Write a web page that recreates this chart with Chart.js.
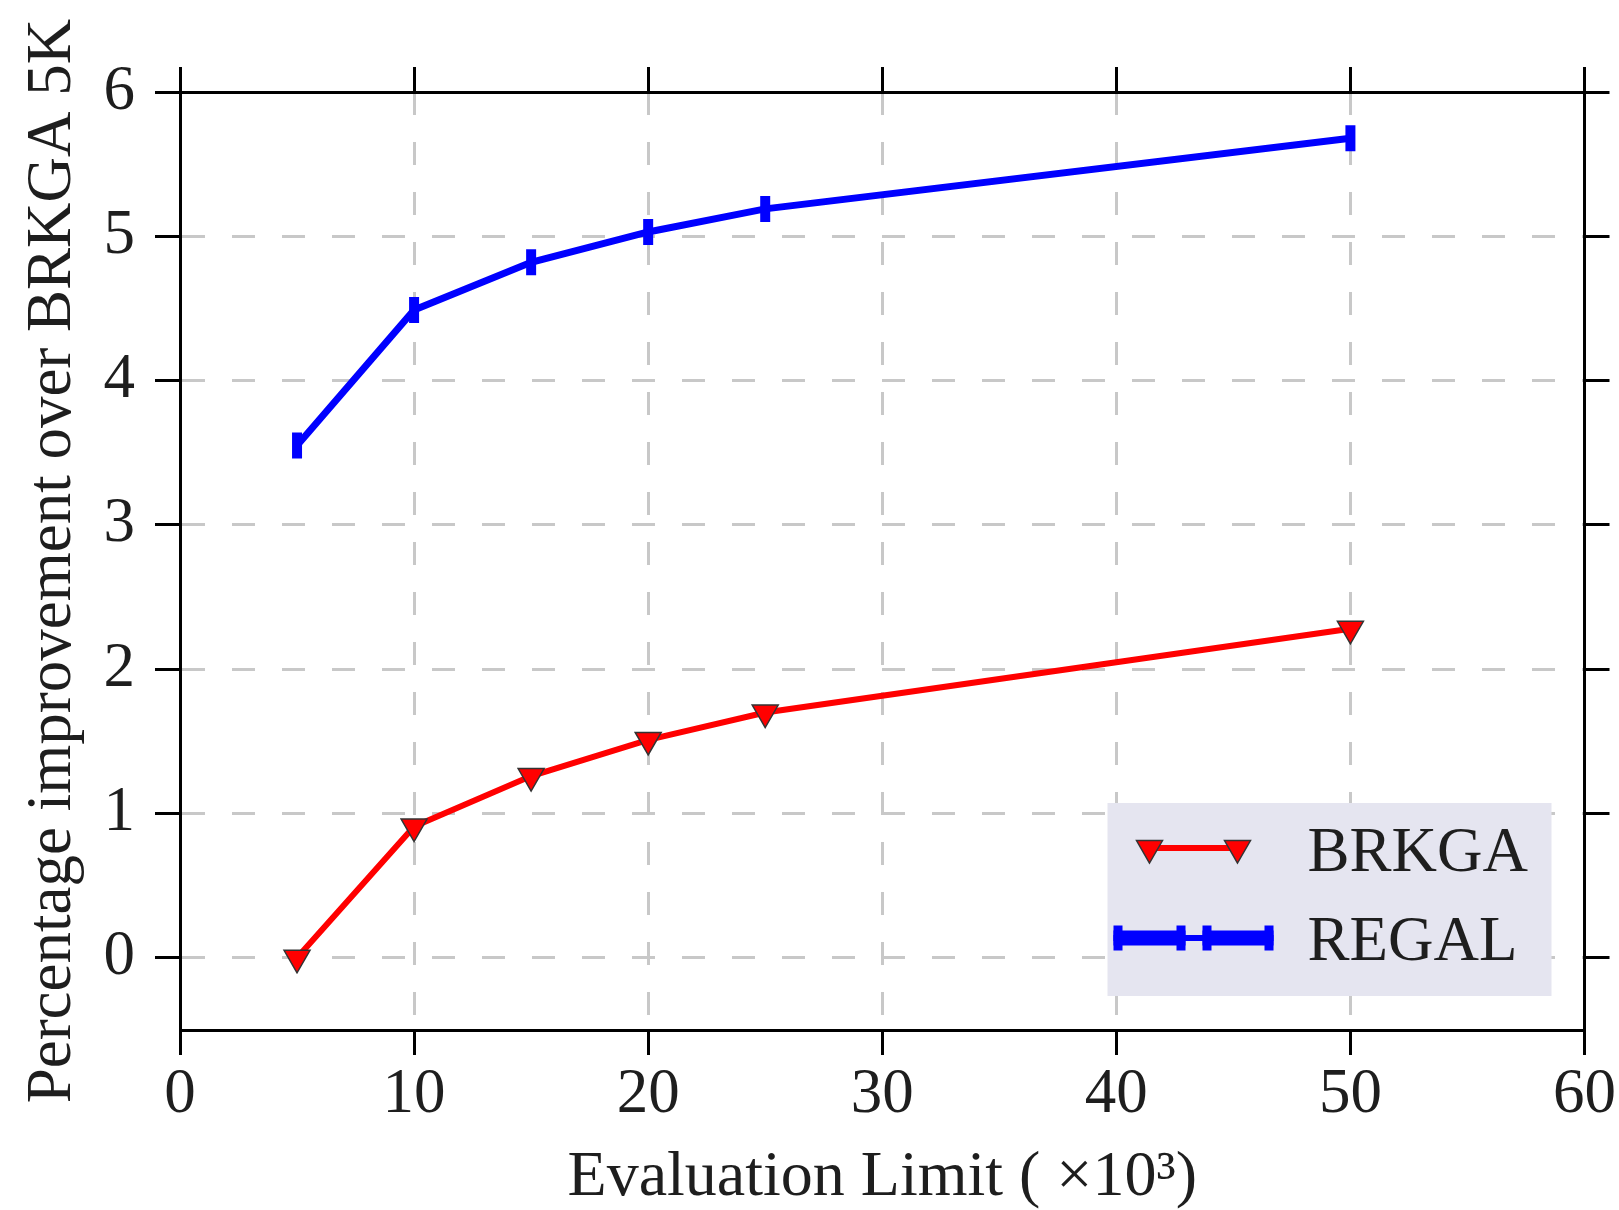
<!DOCTYPE html>
<html>
<head>
<meta charset="utf-8">
<script src="https://cdn.jsdelivr.net/npm/chart.js@4/dist/chart.umd.min.js"></script>
<style>
    body { margin: 0; background: #fff; }
    canvas { display: block; }
</style>
</head>
<body>
<canvas id="improvementChart" width="1619" height="1210"></canvas>
<script>
const evalLimits = [5, 10, 15, 20, 25, 50];
const brkgaValues = [0.0, 0.91, 1.26, 1.51, 1.70, 2.28];
const regalValues = [3.55, 4.49, 4.82, 5.03, 5.19, 5.68];
const xTickValues = [0, 10, 20, 30, 40, 50, 60];
const yTickValues = [0, 1, 2, 3, 4, 5, 6];

const FONT = 'Liberation Serif';
const TEXT_COLOR = '#1e1e1e';

function toPoints(values) {
    return evalLimits.map((x, i) => ({ x: x, y: values[i] }));
}

function setTicks(values) {
    return function(scale) {
        scale.ticks = values.map(v => ({ value: v }));
    };
}

function drawDownTriangle(ctx, x, y, r) {
    ctx.beginPath();
    ctx.moveTo(x, y + r);
    ctx.lineTo(x - r * 0.866, y - r / 2);
    ctx.lineTo(x + r * 0.866, y - r / 2);
    ctx.closePath();
    ctx.fillStyle = '#ff0000';
    ctx.fill();
    ctx.lineWidth = 1.5;
    ctx.strokeStyle = '#333';
    ctx.stroke();
}

// legend box in the lower right, like the matplotlib one
const boxLegend = {
    id: 'boxLegend',
    afterDraw(chart) {
        const ctx = chart.ctx;
        const area = chart.chartArea;
        const w = 444, h = 193;
        const x0 = area.right - 33 - w;
        const y0 = area.bottom - 34 - h;

        ctx.save();
        ctx.fillStyle = '#e5e5f0';
        ctx.fillRect(x0, y0, w, h);

        // BRKGA sample
        const yA = y0 + 45;
        ctx.strokeStyle = '#ff0000';
        ctx.lineWidth = 6;
        ctx.beginPath();
        ctx.moveTo(x0 + 42, yA);
        ctx.lineTo(x0 + 130, yA);
        ctx.stroke();
        drawDownTriangle(ctx, x0 + 42, yA, 15);
        drawDownTriangle(ctx, x0 + 130, yA, 15);

        // REGAL sample
        const yB = y0 + 135;
        ctx.fillStyle = '#0000ff';
        ctx.fillRect(x0 + 6, yB - 3, 160, 6);
        [[6, 78], [95, 166]].forEach(seg => {
            ctx.fillRect(x0 + seg[0], yB - 7.5, seg[1] - seg[0], 15);
            ctx.fillRect(x0 + seg[0], yB - 12.5, 9, 25);
            ctx.fillRect(x0 + seg[1] - 9, yB - 12.5, 9, 25);
        });

        ctx.fillStyle = TEXT_COLOR;
        ctx.font = '63px "' + FONT + '"';
        ctx.textAlign = 'left';
        ctx.textBaseline = 'alphabetic';
        ctx.fillText('BRKGA', x0 + 200, y0 + 68);
        ctx.fillText('REGAL', x0 + 200, y0 + 157);
        ctx.restore();
    }
};

const ctx = document.getElementById('improvementChart').getContext('2d');

new Chart(ctx, {
    type: 'line',
    data: {
        datasets: [
            {
                label: 'BRKGA',
                data: toPoints(brkgaValues),
                borderColor: '#ff0000',
                borderWidth: 6,
                pointStyle: 'triangle',
                pointRotation: 180,
                pointRadius: 15,
                pointBackgroundColor: '#ff0000',
                pointBorderColor: '#333',
                pointBorderWidth: 1.5,
                tension: 0,
                fill: false
            },
            {
                label: 'REGAL',
                data: toPoints(regalValues),
                borderColor: '#0000ff',
                borderWidth: 7,
                pointStyle: 'line',
                pointRotation: 90,
                pointRadius: 13,
                pointBorderColor: '#0000ff',
                pointBorderWidth: 10,
                tension: 0,
                fill: false
            }
        ]
    },
    options: {
        responsive: false,
        animation: false,
        layout: { padding: 0 },
        plugins: {
            legend: { display: false },
            tooltip: { enabled: false }
        },
        scales: {
            x: {
                type: 'linear',
                position: 'bottom',
                min: 0,
                max: 60,
                afterBuildTicks: setTicks(xTickValues),
                afterFit: scale => { scale.height = 180; },
                grid: {
                    color: '#c8c8c8',
                    lineWidth: 3,
                    tickColor: '#000',
                    tickLength: 25,
                    tickWidth: 3
                },
                border: { display: true, color: '#000', width: 3, dash: [23, 27] },
                ticks: {
                    color: TEXT_COLOR,
                    padding: 3,
                    maxRotation: 0,
                    font: { family: FONT, size: 63, lineHeight: 1.2 }
                },
                title: {
                    display: true,
                    text: 'Evaluation Limit ( \u00d710\u00b3)',
                    color: TEXT_COLOR,
                    padding: { top: 0, bottom: 0 },
                    font: { family: FONT, size: 64, lineHeight: 1.0 }
                }
            },
            x2: {
                type: 'linear',
                position: 'top',
                min: 0,
                max: 60,
                afterBuildTicks: setTicks(xTickValues),
                afterFit: scale => { scale.height = 92; },
                grid: {
                    drawOnChartArea: false,
                    color: '#000',
                    tickColor: '#000',
                    tickLength: 25,
                    tickWidth: 3
                },
                border: { display: true, color: '#000', width: 3 },
                ticks: { display: false }
            },
            y: {
                type: 'linear',
                position: 'left',
                min: -0.5,
                max: 6,
                afterBuildTicks: setTicks(yTickValues),
                afterFit: scale => { scale.width = 180; },
                grid: {
                    color: '#c8c8c8',
                    lineWidth: 3,
                    tickColor: '#000',
                    tickLength: 25,
                    tickWidth: 3
                },
                border: { display: true, color: '#000', width: 3, dash: [23, 27] },
                ticks: {
                    color: TEXT_COLOR,
                    padding: 20,
                    font: { family: FONT, size: 63, lineHeight: 1.2 }
                },
                title: {
                    display: true,
                    text: 'Percentage improvement over BRKGA 5K',
                    color: TEXT_COLOR,
                    padding: { top: 16, bottom: 0 },
                    font: { family: FONT, size: 63, lineHeight: 1.2 }
                }
            },
            y2: {
                type: 'linear',
                position: 'right',
                min: -0.5,
                max: 6,
                afterBuildTicks: setTicks(yTickValues),
                afterFit: scale => { scale.width = 34; },
                grid: {
                    drawOnChartArea: false,
                    color: '#000',
                    tickColor: '#000',
                    tickLength: 25,
                    tickWidth: 3
                },
                border: { display: true, color: '#000', width: 3 },
                ticks: { display: false }
            }
        }
    },
    plugins: [boxLegend]
});
</script>
</body>
</html>
